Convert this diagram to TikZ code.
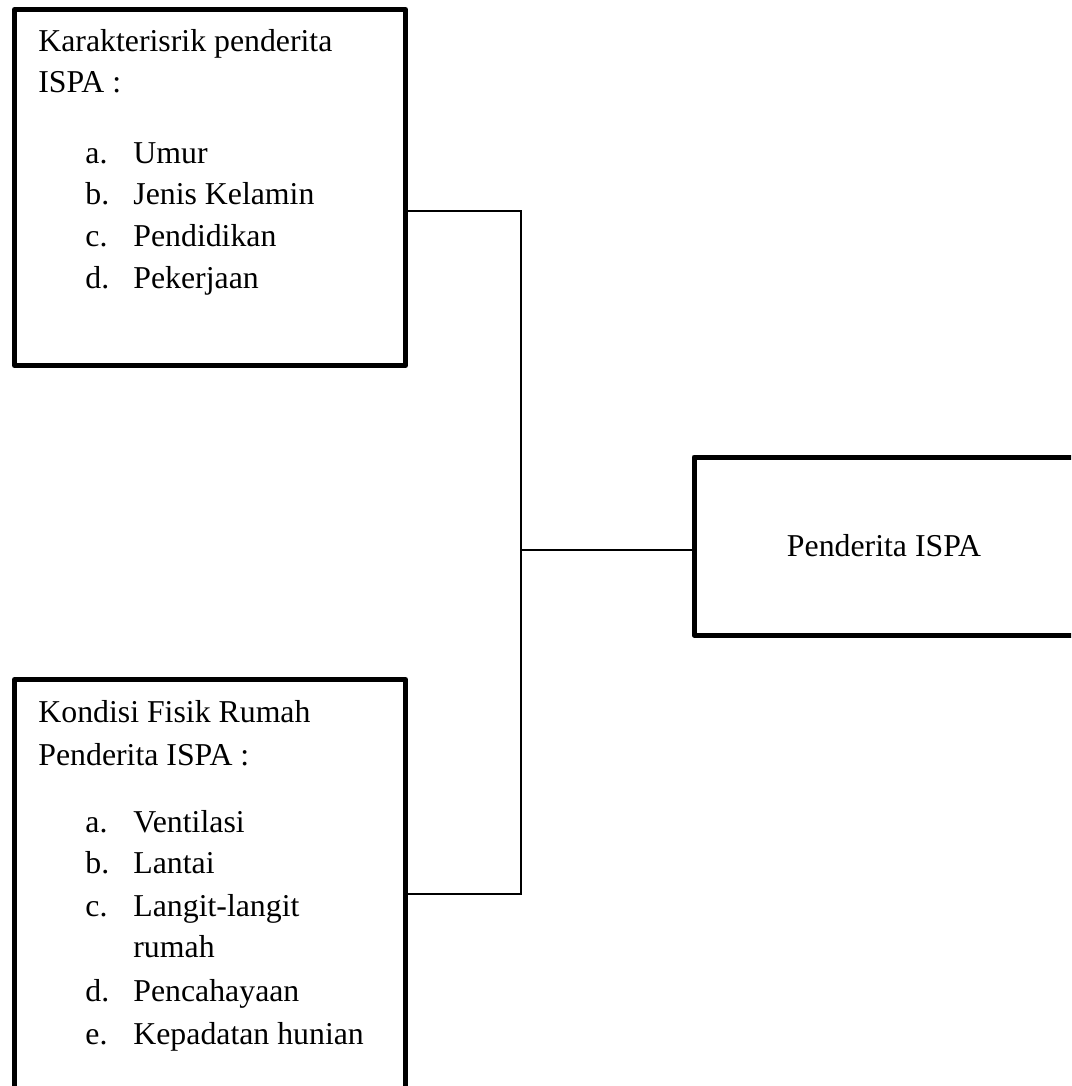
\documentclass[tikz,border=0pt]{standalone}
\usepackage{fontspec}
\setmainfont{Liberation Serif}

\begin{document}
\begin{tikzpicture}[
    x=0.5pt,
    y=-0.5pt,
    panel/.style={
        draw,
        rectangle,
        line width=2.5pt,
        line join=round,
        inner sep=0pt
    },
    link/.style={
        line width=0.9pt
    },
    txt/.style={
        anchor=base west,
        inner sep=0pt,
        font=\fontsize{15.9}{20}\selectfont
    }
]

    \useasboundingbox (0,0) rectangle (1071,1086);
    \clip (0,0) rectangle (1071,1086);

    % Boxes
    \node[panel, minimum width=195.5pt, minimum height=178pt] (karakter) at (210,187.5) {};
    \node[panel, minimum width=195.5pt, minimum height=215.25pt] (kondisi) at (210,894.75) {};
    \node[panel, minimum width=190pt, minimum height=89pt,
        font=\fontsize{15.9}{20}\selectfont] (penderita) at (884,546) {Penderita ISPA};

    % Karakteristik text
    \node[txt] (kh1) at (38,52) {Karakterisrik penderita};
    \node[txt] (kh2) at (38,93) {ISPA :};
    \foreach \lab/\name/\y [count=\i] in {a./Umur/163, b./Jenis Kelamin/204,
        c./Pendidikan/246, d./Pekerjaan/288}
    {
        \node[txt] (ka\i) at (85,\y) {\lab};
        \node[txt] (kb\i) at (133,\y) {\name};
    }

    % Kondisi fisik text
    \node[txt] (fh1) at (38,722) {Kondisi Fisik Rumah};
    \node[txt] (fh2) at (38,765) {Penderita ISPA :};
    \foreach \lab/\name/\y [count=\i] in {a./Ventilasi/832, b./Lantai/873,
        c./Langit-langit/916, d./Pencahayaan/1001, e./Kepadatan hunian/1044}
    {
        \node[txt] (fa\i) at (85,\y) {\lab};
        \node[txt] (fb\i) at (133,\y) {\name};
    }
    \node[txt] (fb3b) at (133,957) {rumah};

    % Connections
    \coordinate (jtop) at (521,211);
    \coordinate (jmid) at (521,550);
    \coordinate (jbot) at (521,894);

    \draw[link] (karakter.east |- jtop) -- (jtop) -- (jbot) -- (kondisi.east |- jbot);
    \draw[link] (jmid) -- (penderita.west |- jmid);

\end{tikzpicture}
\end{document}
